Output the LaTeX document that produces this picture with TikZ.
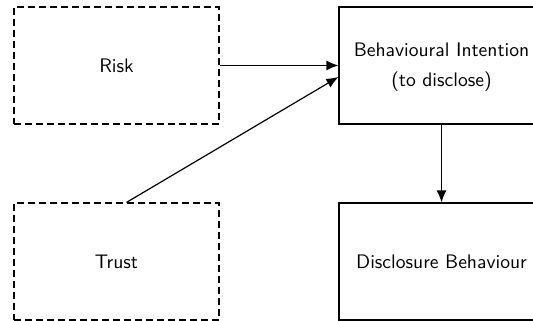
\documentclass[tikz,border=0pt]{standalone}
\usetikzlibrary{arrows.meta,calc}
\begin{document}
\begin{tikzpicture}[x=0.5pt,y=-0.5pt,
  box/.style={draw, line width=0.6pt, minimum width=102.5pt, minimum height=58.5pt, inner sep=0pt, align=center, font=\fontsize{9.8}{14.5}\selectfont\sffamily},
  dbox/.style={box, dash pattern=on 3.3pt off 2.2pt},
  arr/.style={line width=0.6pt, -{Latex[length=6pt,width=5pt]}}]
\useasboundingbox (0,0) rectangle (533,320);
\node[dbox] (risk) at (116.5,65.5) {Risk};
\node[dbox] (trust) at (116.5,261.5) {Trust};
\node[box] (bi) at (441.5,65.5) {\raisebox{-1.5pt}{\begin{tabular}{@{}c@{}}Behavioural Intention\\[0.5pt](to disclose)\end{tabular}}};
\node[box] (db) at (441.5,261.5) {Disclosure Behaviour};
\draw[arr] (risk.east) -- (bi.west);
\draw[arr] ($(trust.north)+(10,0)$) -- ($(bi.west)+(0,11.5)$);
\draw[arr] (bi.south) -- (db.north);
\end{tikzpicture}
\end{document}
